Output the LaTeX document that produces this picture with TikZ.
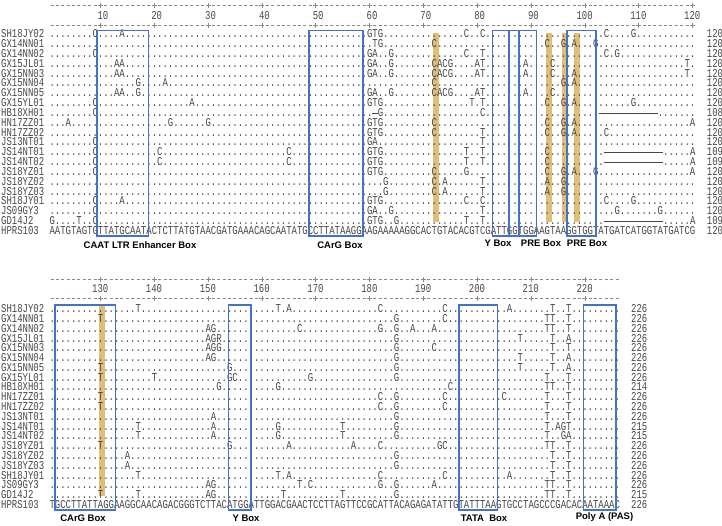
\documentclass[tikz,border=0pt]{standalone}
\usepackage{fontspec}
\setmainfont{Liberation Serif}
\newfontfamily\seqfont[FakeStretch=0.7475]{Liberation Mono}
\newfontfamily\boxfont{Liberation Sans}
\usepackage{tikz}
\definecolor{boxblue}{HTML}{4472C4}
\definecolor{hlgold}{HTML}{DFBF78}
\definecolor{seqgray}{HTML}{474747}
\definecolor{rulegray}{HTML}{8A8A8A}

% one gap column = a thin rule as wide as one character
\newlength\cw \setlength\cw{5.382pt}
\protected\def\gp{\rule[3.2pt]{\cw}{0.5pt}}

% variants per row: col/base; every other column prints as a dot
\newcommand\setmut[2]{\foreach \pos/\nt in {#2}{\expandafter\xdef\csname mu-#1-\pos\endcsname{\nt}}}
\newcommand\setgap[3]{\foreach \pos in {#2,...,#3}{\expandafter\gdef\csname mu-#1-\pos\endcsname{\gp}}}
\newcommand\mkseq[2]{\gdef\seqstr{}%
  \foreach \cc in {1,...,#2}{%
    \ifcsname mu-#1-\cc\endcsname\xdef\seqstr{\seqstr\csname mu-#1-\cc\endcsname}%
    \else\xdef\seqstr{\seqstr.}\fi}}

% block 1, columns 1-120
\setmut{t1}{9/C,14/A,60/G,61/T,62/G,78/C,81/C,104/C,109/G}
\setmut{t2}{61/T,62/G,72/C,93/C,96/G,98/A,102/G}
\setmut{t3}{9/C,60/G,61/A,64/G,78/C,81/T,104/C,106/G}
\setmut{t4}{13/A,14/A,60/G,61/A,64/G,72/C,73/A,74/C,75/G,80/A,81/T,89/A,94/C,119/T}
\setmut{t5}{13/A,14/A,60/G,61/A,64/G,72/C,73/A,74/C,75/G,80/A,81/T,89/A,94/C,98/A,119/T}
\setmut{t6}{17/G,22/A,72/C,96/G,98/A}
\setmut{t7}{13/A,14/A,17/G,60/G,61/A,64/G,72/C,73/A,74/C,75/G,80/A,81/T,89/A,94/C}
\setmut{t8}{9/C,27/A,60/G,61/T,62/G,79/T,81/T,93/C,96/G,98/A,109/G}
\setmut{t9}{9/C,62/G,81/C}
\setgap{t9}{61}{61}
\setgap{t9}{103}{113}
\setmut{t10}{4/A,23/G,30/G,60/G,61/T,62/G,72/C,93/C,96/G,98/A,120/A}
\setmut{t11}{60/G,61/T,62/G,72/C,81/T,93/C,96/G,98/A,104/C}
\setmut{t12}{9/C,60/G,61/A,81/T}
\setmut{t13}{9/C,21/C,45/C,60/G,61/T,62/G,78/T,81/T,93/C,120/A}
\setgap{t13}{104}{114}
\setmut{t14}{9/C,21/C,45/C,60/G,61/T,62/G,78/T,81/T,93/C,120/A}
\setgap{t14}{104}{114}
\setmut{t15}{9/C,60/G,61/T,62/G,72/C,78/G,93/C,96/G,98/A,102/G,120/A}
\setmut{t16}{63/G,72/C,74/A,81/T,93/A,96/G}
\setmut{t17}{63/G,72/C,74/A,81/T,93/A,96/G}
\setmut{t18}{9/C,14/A,60/G,61/T,62/G,78/C,81/C,104/C,109/G}
\setmut{t19}{9/C,60/G,61/A,64/G,81/T,106/G,114/G}
\setmut{t20}{1/G,6/T,9/C,60/G,61/T,62/G,65/G,78/T,81/T,120/A}
\setgap{t20}{104}{114}

% block 2, columns 121-226 (counted from 1)
\setmut{b1}{17/T,43/T,45/A,62/C,74/C,86/A,94/T,97/T}
\setmut{b2}{10/T,65/G,74/C,93/T,94/T,97/T}
\setmut{b3}{30/A,31/G,47/C,62/G,65/G,68/A,72/A,93/T,94/T,97/T}
\setmut{b4}{30/A,31/G,32/R,65/G,88/T,94/T,97/A}
\setmut{b5}{30/A,31/G,32/G,65/G,72/C,94/T,97/T}
\setmut{b6}{30/A,31/G,65/G,88/T,94/T,97/A}
\setmut{b7}{10/T,34/G,65/G,88/T,94/T,97/A}
\setmut{b8}{10/T,20/T,34/G,35/C,49/G,65/G,93/T,97/T}
\setmut{b9}{32/G,43/G,75/C,93/T,94/T,97/T}
\setmut{b10}{10/T,62/C,65/G,74/C,85/C,93/T,97/T}
\setmut{b11}{10/T,62/C,65/G,74/C,93/T,97/T}
\setmut{b12}{31/A,65/G,93/T,97/T}
\setmut{b13}{17/T,31/A,43/G,55/T,65/G,93/T,95/A,96/G,97/T}
\setmut{b14}{17/T,31/A,43/G,55/T,65/G,93/T,96/G,97/A}
\setmut{b15}{10/T,34/G,45/A,57/A,62/C,73/G,74/C,93/T,94/T,97/T}
\setmut{b16}{15/A,65/G,94/T,97/T}
\setmut{b17}{15/A,65/G,94/T,97/T}
\setmut{b18}{17/T,43/T,45/A,62/C,74/C,86/A,94/T,97/T}
\setmut{b19}{30/A,31/G,47/T,49/C,62/G,65/G,72/A,93/T,94/T,97/T}
\setmut{b20}{10/T,17/T,30/A,31/G,44/T,55/T,65/G,93/T,94/T,97/T}

\tikzset{
  seqtxt/.style={font=\seqfont\fontsize{12}{12}\selectfont, text=seqgray,
    inner sep=0pt, text height=6.9pt, text depth=0pt, anchor=base west},
  rulenum/.style={seqtxt, anchor=base east},
  rulerline/.style={draw=rulegray, line width=0.5pt, dash pattern=on 3pt off 2.382pt},
  rulertick/.style={draw=rulegray, line width=0.5pt},
  motifbox/.style={draw=boxblue, line width=1.1pt},
  hlbar/.style={fill=hlgold},
  motiflabel/.style={font=\boxfont\bfseries\fontsize{9.5}{10}\selectfont,
    inner sep=0pt, anchor=center},
}

\begin{document}
\begin{tikzpicture}[x=1pt, y=-1pt]
  \useasboundingbox (0,0) rectangle (722,525);

  % highlighted columns
  \foreach \bx in {436,549,564.8,576.7}
    \fill[hlbar] (\bx-3,33) rectangle (\bx+3,222);
  \fill[hlbar] (99.3,306) rectangle (104.7,496);

  % rulers
  \foreach \ry in {5,25} {
    \draw[rulerline] (50.5,\ry) -- (694.8,\ry);
    \foreach \n in {10,20,...,120}
      \draw[rulertick] ({52+(\n-1)*5.382},\ry-2.5) -- ++(0,5)
        ({49.5+(\n-1)*5.382},\ry) -- ++(5,0);
  }
  \foreach \n in {10,20,...,120}
    \node[rulenum] (tick\n) at ({49.3+(\n+1)*5.382},19.8) {\n};
  \foreach \ry in {279.3,298.3} {
    \draw[rulerline] (50.5,\ry) -- (619.5,\ry);
    \foreach \n in {10,20,...,100}
      \draw[rulertick] ({52+(\n-1)*5.382},\ry-2.5) -- ++(0,5)
        ({49.5+(\n-1)*5.382},\ry) -- ++(5,0);
  }
  \foreach \n in {130,140,...,220}
    \node[rulenum] (tick\n) at ({49.3+(\n-119)*5.382},292.6) {\n};

  % block 1
  \foreach \nm/\len [count=\i] in {SH18JY02/120,GX14NN01/120,GX14NN02/120,
      GX15JL01/120,GX15NN03/120,GX15NN04/120,GX15NN05/120,GX15YL01/120,
      HB18XH01/108,HN17ZZ01/120,HN17ZZ02/120,JS13NT01/120,JS14NT01/109,
      JS14NT02/109,JS18YZ01/120,JS18YZ02/120,JS18YZ03/120,SH18JY01/120,
      JS09GY3/120,GD14J2/109} {
    \pgfmathsetmacro\by{34.3+(\i-1)*9.835+3.4}
    \mkseq{t\i}{120}
    \node[seqtxt] (tname\i) at (1,\by) {\nm};
    \node[seqtxt] (tseq\i) at (49.3,\by) {\seqstr};
    \node[seqtxt] (tlen\i) at (706.7,\by) {\len};
  }
  \node[seqtxt] (tnameref) at (1,234.4) {HPRS103};
  \node[seqtxt] (tseqref) at (49.3,234.4)
    {AATGTAGTGTTATGCAATACTCTTATGTAACGATGAAACAGCAATATGCCTTATAAGGAAGAAAAAGGCACTGTACACGTCGATTGGTGGAAGTAAGGTGGTATGATCATGGTATGATCG};
  \node[seqtxt] (tlenref) at (706.7,234.4) {120};

  % block 2
  \foreach \nm/\len [count=\i] in {SH18JY02/226,GX14NN01/226,GX14NN02/226,
      GX15JL01/226,GX15NN03/226,GX15NN04/226,GX15NN05/226,GX15YL01/226,
      HB18XH01/214,HN17ZZ01/226,HN17ZZ02/226,JS13NT01/226,JS14NT01/215,
      JS14NT02/215,JS18YZ01/226,JS18YZ02/226,JS18YZ03/226,SH18JY01/226,
      JS09GY3/226,GD14J2/215} {
    \pgfmathsetmacro\by{309.3+(\i-1)*9.785+3.4}
    \mkseq{b\i}{106}
    \node[seqtxt] (bname\i) at (1,\by) {\nm};
    \node[seqtxt] (bseq\i) at (49.3,\by) {\seqstr};
    \node[seqtxt] (blen\i) at (631,\by) {\len};
  }
  \node[seqtxt] (bnameref) at (1,508.4) {HPRS103};
  \node[seqtxt] (bseqref) at (49.3,508.4)
    {TGCCTTATTAGGAAGGCAACAGACGGGTCTTACATGGATTGGACGAACTCCTTAGTTCCGCATTACAGAGATATTGTATTTAAGTGCCTAGCCCGACACAATAAAC};
  \node[seqtxt] (blenref) at (631,508.4) {226};

  % motif boxes
  \draw[motifbox] (97,30.5) rectangle (148.3,236);
  \draw[motifbox] (309,30.5) rectangle (363,236);
  \draw[motifbox] (492.3,30.5) rectangle (519,236);
  \draw[motifbox] (509,30.5) rectangle (536.7,236);
  \draw[motifbox] (567,30.5) rectangle (596,236);
  \draw[motifbox] (55,305) rectangle (115.7,510);
  \draw[motifbox] (228.3,305) rectangle (251,510);
  \draw[motifbox] (459,305) rectangle (497.3,510);
  \draw[motifbox] (583.3,305) rectangle (616,510);

  % motif names
  \node[motiflabel] (caat) at (140,245.3) {CAAT LTR Enhancer Box};
  \node[motiflabel] (carg1) at (340,245.3) {CArG Box};
  \node[motiflabel] (ybox1) at (498,243.3) {Y Box};
  \node[motiflabel] (pre1) at (541,243.3) {PRE Box};
  \node[motiflabel] (pre2) at (587,243.3) {PRE Box};
  \node[motiflabel] (carg2) at (83,518) {CArG Box};
  \node[motiflabel] (ybox2) at (246,518) {Y Box};
  \node[motiflabel] (tata) at (484,518) {TATA\ \ Box};
  \node[motiflabel] (polya) at (604.5,517.5) {Poly A (PAS)};
\end{tikzpicture}
\end{document}
